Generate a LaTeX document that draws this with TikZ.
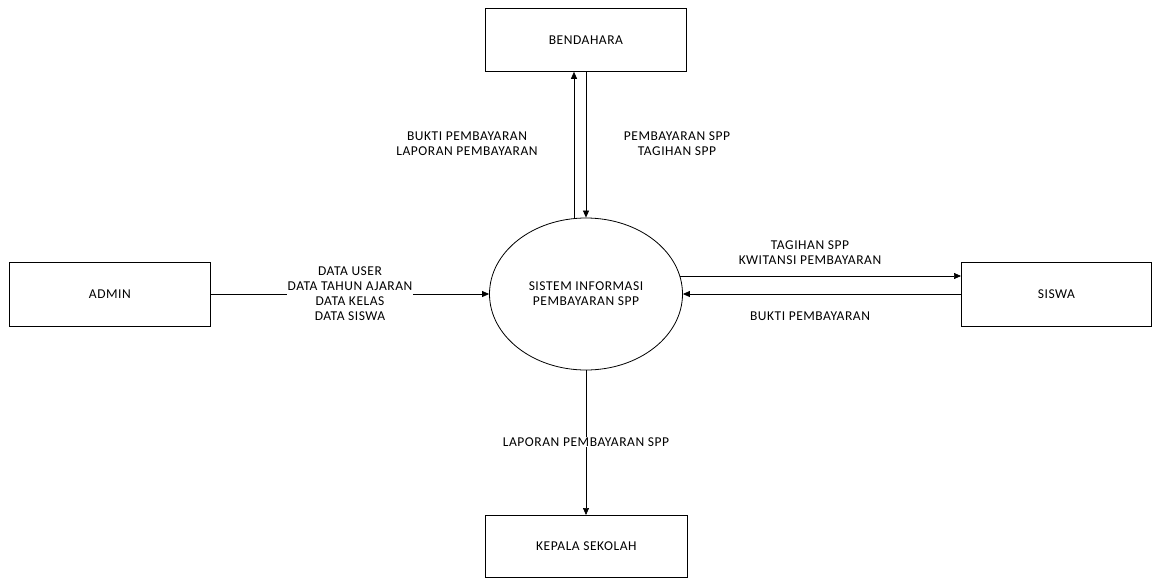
\documentclass[tikz,border=0pt]{standalone}
\usepackage{fontspec}
\setmainfont{Carlito}[LetterSpace=4]
\usetikzlibrary{arrows.meta,shapes.geometric}
\begin{document}
\begin{tikzpicture}[x=1pt,y=-1pt,
  every node/.style={font=\fontsize{13.5}{14.8}\selectfont},
  entity/.style={draw,line width=0.8pt,inner sep=0pt,anchor=north west},
  proc/.style={draw,ellipse,line width=0.8pt,inner sep=0pt,minimum width=193pt,minimum height=152pt},
  flow/.style={line width=0.7pt,-{Triangle[length=7pt,width=6pt]}},
  lbl/.style={align=center,inner sep=1pt},
  lblbg/.style={align=center,fill=white,inner sep=1pt}]
\useasboundingbox (0,0) rectangle (1152,579);
\node[entity,minimum width=201pt,minimum height=63pt] (bend) at (485,8) {BENDAHARA};
\node[entity,minimum width=201pt,minimum height=64pt] (admin) at (9,262) {ADMIN};
\node[entity,minimum width=190pt,minimum height=64pt] (siswa) at (961,262) {SISWA};
\node[entity,minimum width=202pt,minimum height=62pt] (kepala) at (485,515) {KEPALA SEKOLAH};
\node[proc,align=center] (sis) at (586,294) {SISTEM INFORMASI\\PEMBAYARAN SPP};
% Bendahara flows
\coordinate (bu) at (574,0);
\coordinate (bd) at (586,0);
\draw[flow] (sis.north -| bu) ++(0,1) -- (bend.south -| bu);
\draw[flow] (bend.south -| bd) -- (sis.north -| bd);
\node[lbl] (l1) at (467,144) {BUKTI PEMBAYARAN\\LAPORAN PEMBAYARAN};
\node[lbl] (l2) at (677,144) {PEMBAYARAN SPP\\TAGIHAN SPP};
% Admin flow
\draw[flow] (admin.east |- sis.west) -- (sis.west);
\node[lblbg] (l3) at (350,293.5) {DATA USER\\DATA TAHUN AJARAN\\DATA KELAS\\DATA SISWA};
% Siswa flows
\coordinate (su) at (0,276);
\draw[flow] (680,276) coordinate (sa) -- (siswa.west |- su);
\draw[flow] (siswa.west |- sis.east) -- (sis.east);
\node[lbl] (l4) at (810,252.5) {TAGIHAN SPP\\KWITANSI PEMBAYARAN};
\node[lbl] (l5) at (810,316) {BUKTI PEMBAYARAN};
% Kepala flow
\draw[flow] (sis.south) -- (kepala.north -| sis.south);
\node[lblbg] (l6) at (586,442) {LAPORAN PEMBAYARAN SPP};
\end{tikzpicture}
\end{document}
